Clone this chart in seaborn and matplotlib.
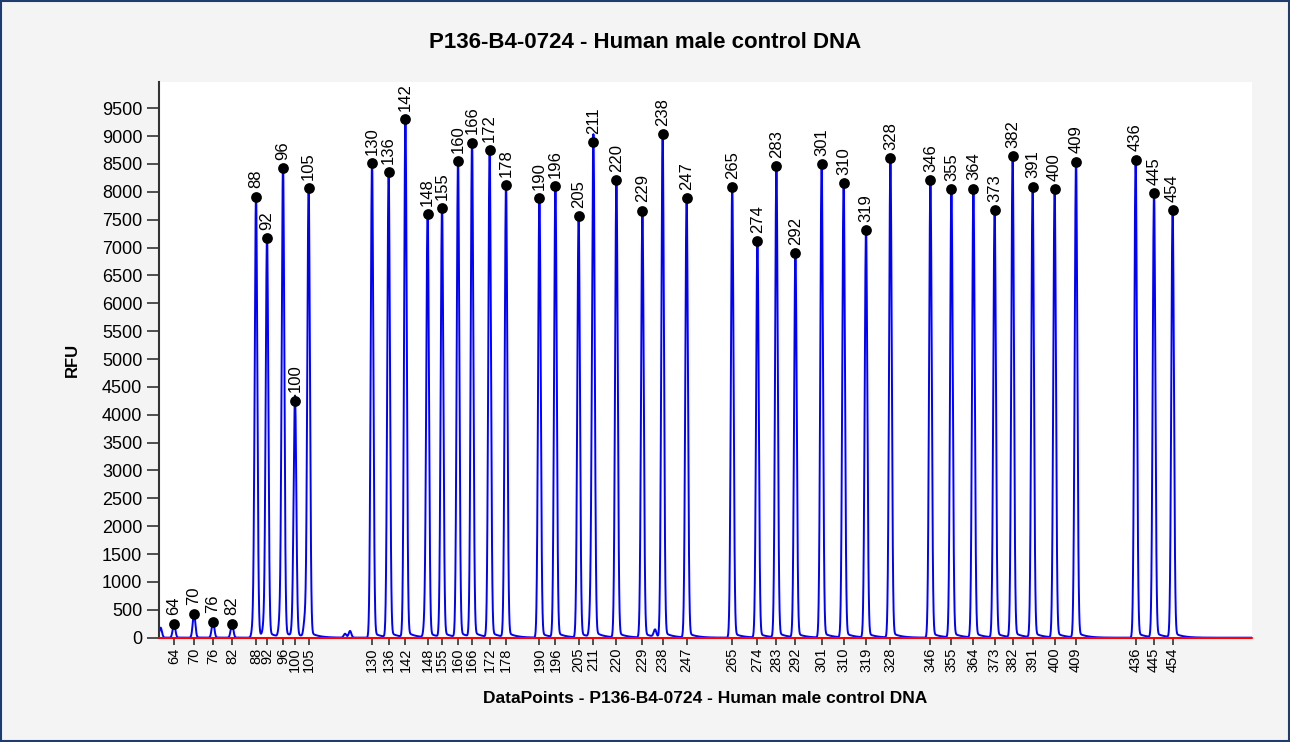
import numpy as np
import pandas as pd
import seaborn as sns
import matplotlib
matplotlib.use("Agg")
import matplotlib.pyplot as plt
from matplotlib.patches import Rectangle

# Sample info
TITLE = "P136-B4-0724 - Human male control DNA"
X_LABEL = "DataPoints - P136-B4-0724 - Human male control DNA"
Y_LABEL = "RFU"

# Called peaks: fragment size (nt), position (data points), height (RFU)
peak_sizes = [64, 70, 76, 82, 88, 92, 96, 100, 105,
              130, 136, 142, 148, 155, 160, 166, 172, 178,
              190, 196, 205, 211, 220, 229, 238, 247,
              265, 274, 283, 292, 301, 310, 319, 328,
              346, 355, 364, 373, 382, 391, 400, 409,
              436, 445, 454]
peak_points = [1075, 1175, 1270, 1365, 1485, 1540, 1620, 1680, 1748,
               2065, 2148, 2232, 2343, 2415, 2495, 2565, 2653, 2735,
               2902, 2982, 3098, 3172, 3287, 3417, 3518, 3638,
               3866, 3992, 4087, 4182, 4313, 4423, 4535, 4657,
               4857, 4962, 5072, 5178, 5268, 5368, 5478, 5585,
               5883, 5975, 6068]
peak_rfu = [250, 430, 290, 250, 7910, 7170, 8430, 4255, 8070,
            8510, 8350, 9300, 7600, 7710, 8545, 8880, 8750, 8115,
            7890, 8100, 7565, 8895, 8205, 7660, 9035, 7890,
            8085, 7120, 8465, 6905, 8490, 8160, 7310, 8600,
            8210, 8050, 8055, 7675, 8640, 8090, 8050, 8540,
            8575, 7970, 7670]

# Unlabelled shoulders / noise bumps
minor_points = [1008, 1470, 1525, 1605, 1670, 1730, 1930, 1955, 2330, 3160, 3480]
minor_rfu = [180, 200, 200, 320, 200, 330, 70, 120, 290, 650, 130]

X_RANGE = (1000, 6465)
Y_RANGE = (0, 9970)


def build_trace(points, heights, grid):
    # narrow gaussian peak with a faint right-hand tail
    trace = np.zeros_like(grid, dtype=float)
    for p, h in zip(points, heights):
        d = grid - p
        trace += h * np.exp(-0.5 * (d / 6.5) ** 2)
        trace += 0.012 * h * np.where(d > 0, np.exp(-d / 40.0), 0.0)
    return trace


grid = np.arange(X_RANGE[0], X_RANGE[1] + 1, 1.0)
signal = build_trace(peak_points + minor_points, peak_rfu + minor_rfu, grid)
df_trace = pd.DataFrame({"DataPoints": grid, "RFU": signal})
df_peaks = pd.DataFrame({"DataPoints": peak_points, "RFU": peak_rfu,
                         "Size": [str(s) for s in peak_sizes]})

sns.set_theme(style="white")
plt.rcParams["font.family"] = ["Liberation Sans", "DejaVu Sans"]
plt.rcParams["text.color"] = "black"
plt.rcParams["axes.labelcolor"] = "black"
plt.rcParams["xtick.color"] = "black"
plt.rcParams["ytick.color"] = "black"

fig = plt.figure(figsize=(12.9, 7.42), dpi=100, facecolor="#f4f4f4")
ax = fig.add_axes([159 / 1290, 1 - 637.7 / 742, (1252 - 159) / 1290, (637.7 - 82) / 742])
ax.set_facecolor("white")

sns.lineplot(data=df_trace, x="DataPoints", y="RFU", ax=ax, color="#0000ff",
             linewidth=1.4, estimator=None, sort=False)
sns.scatterplot(data=df_peaks, x="DataPoints", y="RFU", ax=ax, color="black",
                s=60, edgecolor="black", linewidth=0, zorder=5)

for _, r in df_peaks.iterrows():
    ax.annotate(r["Size"], (r["DataPoints"], r["RFU"]), xytext=(0, 6),
                textcoords="offset points", rotation=90, ha="center", va="bottom",
                fontsize=12, color="black", annotation_clip=False)

ax.axhline(0, color="red", linewidth=1.5, zorder=6, clip_on=False)

ax.set_xlim(*X_RANGE)
ax.set_ylim(*Y_RANGE)
ax.set_yticks(np.arange(0, 9501, 500))
ax.set_xticks(peak_points)
ax.set_xticklabels([str(s) for s in peak_sizes], rotation=90, fontsize=10.5)
ax.tick_params(axis="y", labelsize=13, length=9, width=1.2, color="#333333", pad=3, left=True)
ax.tick_params(axis="x", length=5, width=1.2, color="#333333", pad=2, bottom=True)

for side in ["top", "right", "bottom"]:
    ax.spines[side].set_visible(False)
ax.spines["left"].set_color("#333333")
ax.spines["left"].set_linewidth(1.5)

ax.set_xlabel(X_LABEL, fontsize=12.5, fontweight="bold", labelpad=14)
ax.set_ylabel(Y_LABEL, fontsize=12, fontweight="bold", labelpad=16)
fig.suptitle(TITLE, fontsize=16, fontweight="bold", y=1 - 42 / 742, va="center")

# window frame
fig.patches.append(Rectangle((0.001, 0.001), 0.998, 0.997, transform=fig.transFigure,
                             fill=False, edgecolor="#1f3c6e", linewidth=1.5))

fig.savefig("out.png", dpi=100, facecolor=fig.get_facecolor())
